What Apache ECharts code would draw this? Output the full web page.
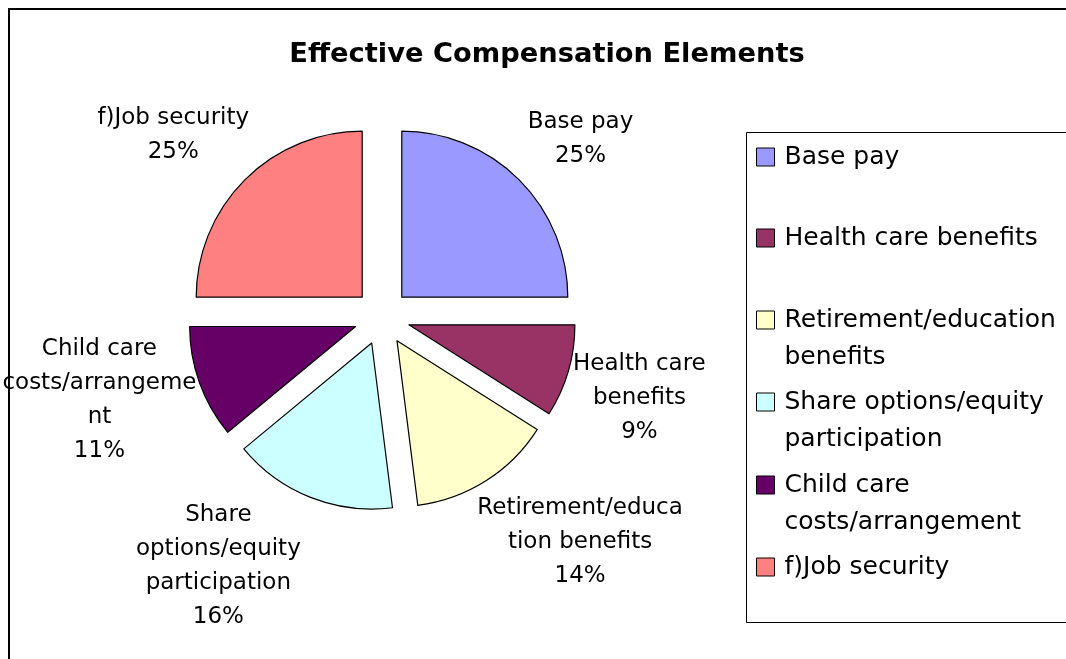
<!DOCTYPE html>
<html>
<head>
<meta charset="utf-8">
<script src="https://cdn.jsdelivr.net/npm/echarts@6/dist/echarts.min.js"></script>
<style>
  html, body { margin: 0; padding: 0; background: #fff; }
  #container { width: 1066px; height: 659px; }
</style>
</head>
<body>
<div id="container"></div>
<script>
// data
var names = ['Base pay', 'Health care benefits', 'Retirement/education benefits',
    'Share options/equity participation', 'Child care costs/arrangement', 'f)Job security'];
var values = [25, 9, 14, 16, 11, 25];
var legendText = ['Base pay', 'Health care benefits', 'Retirement/education\nbenefits',
    'Share options/equity\nparticipation', 'Child care\ncosts/arrangement', 'f)Job security'];
var labelText = ['Base pay', 'Health care\nbenefits', 'Retirement/educa\ntion benefits',
    'Share\noptions/equity\nparticipation', 'Child care\ncosts/arrangeme\nnt', 'f)Job security'];

// styles
var colors = ['#9999FF', '#993366', '#FFFFCC', '#CCFFFF', '#660066', '#FF8080'];
var legendLineY = [157, 238, 320, 402, 485, 567];
var labelLen = [57, 98, 73, 74, 50, 63];
var labelLen2 = [16, -28, 50, 60, 48, 22];
var font = 'DejaVu Sans';

var dom = document.getElementById('container');
var myChart = echarts.init(dom, null, { renderer: 'canvas' });

var legends = names.map(function (name, i) {
    var twoLine = legendText[i].indexOf('\n') >= 0;
    return {
        data: [name],
        orient: 'vertical',
        left: 756,
        top: legendLineY[i] - (twoLine ? 55.5 : 18.5),
        padding: 0,
        icon: 'rect',
        itemWidth: 18,
        itemHeight: 18,
        selectedMode: false,
        itemStyle: { borderColor: '#000', borderWidth: 1 },
        // blank first line keeps the icon beside the first text line
        formatter: function () { return (twoLine ? '\n' : '') + legendText[i]; },
        textStyle: {
            fontFamily: font,
            fontSize: 25,
            lineHeight: 37,
            color: '#000',
            padding: [0, 0, 0, 5]
        }
    };
});

var option = {
    backgroundColor: '#fff',
    animation: false,
    title: {
        text: 'Effective Compensation Elements',
        left: 542,
        top: 36,
        textAlign: 'center',
        textStyle: { fontFamily: font, fontSize: 27.3, fontWeight: 'bold', color: '#000' }
    },
    legend: legends,
    graphic: [
        {
            type: 'rect', silent: true, z: -1,
            shape: { x: 9, y: 9, width: 1200, height: 800 },
            style: { fill: 'none', stroke: '#000', lineWidth: 2 }
        },
        {
            type: 'rect', silent: true, z: -1,
            shape: { x: 746.5, y: 132.5, width: 400, height: 490 },
            style: { fill: 'none', stroke: '#000', lineWidth: 1 }
        }
    ],
    series: [
        {
            type: 'pie',
            center: [382, 317],
            radius: 166,
            startAngle: 90,
            clockwise: true,
            selectedMode: 'multiple',
            selectedOffset: 28,
            avoidLabelOverlap: false,
            emphasis: { disabled: true, scale: false },
            itemStyle: { borderColor: '#000', borderWidth: 1.2 },
            label: {
                show: true,
                position: 'outside',
                fontFamily: font,
                fontSize: 23,
                lineHeight: 34,
                color: '#000',
                formatter: function (p) {
                    return labelText[p.dataIndex] + '\n' + Math.round(p.percent) + '%';
                }
            },
            labelLine: { show: true, lineStyle: { opacity: 0 } },
            labelLayout: function () {
                return { align: 'center', verticalAlign: 'middle' };
            },
            data: names.map(function (name, i) {
                return {
                    name: name,
                    value: values[i],
                    selected: true,
                    itemStyle: { color: colors[i] },
                    labelLine: { length: labelLen[i], length2: labelLen2[i] }
                };
            })
        }
    ]
};

if (option && typeof option === 'object') {
    myChart.setOption(option);
}

window.addEventListener('resize', myChart.resize);
</script>
</body>
</html>
